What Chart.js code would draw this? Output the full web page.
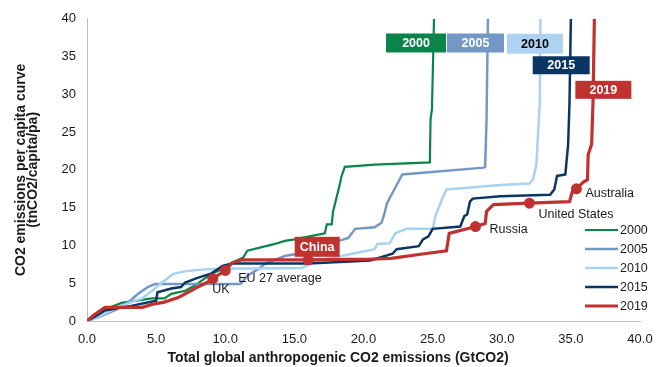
<!DOCTYPE html>
<html><head><meta charset="utf-8">
<script src="https://cdn.jsdelivr.net/npm/chart.js@4.4.0/dist/chart.umd.min.js"></script>
<style>html,body{margin:0;padding:0;background:#fff}#wrap{width:669px;height:367px}</style>
</head><body><div id="wrap"><canvas id="c" width="669" height="367"></canvas></div>
<script>
const years = ['2000', '2005', '2010', '2015', '2019'];

const x2000 = [0, 0.6, 1.5, 2.5, 4.7, 5.6, 6.1, 7.1, 7.8, 8.5, 9.2, 10.0, 10.5, 11.3, 11.6, 13.6, 14.3, 15.0, 17.2, 17.35, 17.7, 17.8, 18.3, 18.4, 18.65, 20.8, 24.8, 24.85, 24.95, 25.1];
const y2000 = [0, 0.9, 1.7, 2.4, 3.0, 3.0, 3.6, 4.0, 4.7, 5.6, 6.4, 7.1, 7.7, 8.4, 9.3, 10.2, 10.6, 10.8, 11.6, 12.8, 12.8, 14.5, 18.2, 19.1, 20.4, 20.7, 21.0, 26.7, 28.0, 40];

const x2005 = [0, 0.8, 2.0, 3.0, 3.7, 4.4, 4.9, 11.1, 11.6, 12.4, 12.9, 14.3, 16.5, 17.7, 18.9, 19.4, 20.8, 21.3, 21.5, 21.7, 22.4, 22.8, 28.7, 28.8, 28.9, 29.0];
const y2005 = [0, 0.5, 1.4, 2.5, 3.6, 4.5, 4.9, 4.9, 6.0, 6.9, 7.6, 8.6, 9.3, 10.3, 11.0, 12.2, 12.4, 13.0, 14.1, 15.6, 18.0, 19.4, 20.3, 20.4, 26.7, 40];

const x2010 = [0, 0.6, 1.3, 2.5, 3.5, 4.0, 4.7, 5.5, 6.2, 7.1, 8.3, 9.5, 10.0, 15.5, 16.7, 19.2, 20.8, 21.0, 21.9, 22.3, 23.1, 25.0, 25.2, 25.7, 26.0, 29.9, 32.0, 32.25, 32.5, 32.75, 32.8];
const y2010 = [0, 0.4, 1.0, 2.0, 2.7, 3.0, 4.0, 5.2, 6.2, 6.6, 6.8, 6.9, 6.9, 7.0, 8.0, 8.9, 9.5, 10.2, 10.3, 11.6, 12.2, 12.2, 13.9, 16.2, 17.4, 18.0, 18.2, 18.7, 20.6, 28.9, 40];

const x2015 = [0, 0.6, 1.3, 3.2, 5.0, 5.1, 6.1, 6.8, 7.1, 8.0, 9.0, 9.5, 9.8, 10.5, 16.0, 20.5, 22.1, 22.4, 24.0, 24.3, 24.7, 25.0, 27.0, 27.3, 27.5, 27.7, 27.9, 29.9, 33.5, 33.8, 34.0, 34.6, 34.7, 34.8, 34.9, 35.0];
const y2015 = [0, 0.6, 1.4, 2.0, 2.7, 3.8, 4.3, 4.5, 5.1, 5.7, 6.3, 6.9, 7.3, 7.6, 7.6, 8.0, 8.9, 9.5, 9.9, 10.8, 11.2, 12.2, 12.5, 13.9, 14.1, 15.8, 16.2, 16.5, 16.7, 17.4, 19.2, 19.4, 21.4, 23.3, 28.9, 40];

const x2019 = [0, 0.5, 1.3, 4.0, 4.7, 5.6, 6.6, 7.8, 9.0, 9.1, 10.0, 10.5, 11.2, 16.0, 20.5, 22.0, 24.4, 26.0, 26.2, 27.7, 28.1, 28.8, 28.9, 29.4, 32.0, 34.9, 35.1, 35.4, 35.9, 36.2, 36.25, 36.5, 36.6, 36.7];
const y2019 = [0, 0.8, 1.8, 1.8, 2.2, 2.5, 3.1, 4.3, 5.4, 5.6, 6.7, 7.7, 8.1, 8.1, 8.2, 8.3, 8.9, 9.3, 11.6, 12.3, 12.5, 12.9, 14.5, 15.4, 15.6, 15.8, 17.1, 17.5, 18.4, 18.7, 22.0, 23.4, 28.9, 40];

const markerNames = ['UK', 'EU 27 average', 'China', 'Russia', 'United States', 'Australia'];
const markerX = [9.1, 10.0, 16.0, 28.1, 32.0, 35.4];
const markerY = [5.6, 6.7, 8.1, 12.5, 15.6, 17.5];

const xTickValues = [0, 5, 10, 15, 20, 25, 30, 35, 40];
const yTickValues = [0, 5, 10, 15, 20, 25, 30, 35, 40];

const xTitle = 'Total global anthropogenic CO2 emissions (GtCO2)';
const yTitle = ['CO2 emissions per capita curve', '(tnCO2/capita/pa)'];

const colors = ['#0a8448', '#7398c6', '#a9d1f0', '#0b3663', '#c0322f'];
const widths = [2.2, 2.5, 2.5, 2.5, 3.2];
const FONT = "'Liberation Sans', Arial, sans-serif";

const seriesX = [x2000, x2005, x2010, x2015, x2019];
const seriesY = [y2000, y2005, y2010, y2015, y2019];

const datasets = years.map((yr, i) => ({
  label: yr,
  data: seriesX[i].map((x, j) => ({x: x, y: seriesY[i][j]})),
  showLine: true,
  borderColor: colors[i],
  backgroundColor: colors[i],
  borderWidth: widths[i],
  pointRadius: 0,
  tension: 0,
  order: 10 - i
}));
datasets.push({
  label: 'markers',
  data: markerX.map((x, j) => ({x: x, y: markerY[j]})),
  showLine: false,
  pointRadius: 5.5,
  pointBackgroundColor: '#c0322f',
  pointBorderColor: '#c0322f',
  pointBorderWidth: 0,
  order: 0
});

// annotation layout (offsets in px from the marker)
const labelLayout = [
  {dx: 8, dy: 11, align: 'center'},
  {dx: 13, dy: 8, align: 'left'},
  {dx: 9, dy: -13, box: true, w: 45, h: 20},
  {dx: 14, dy: 3, align: 'left'},
  {dx: 9, dy: 11, align: 'left'},
  {dx: 9, dy: 5, align: 'left'}
];
// year box anchors (data coordinates) and sizes
const yearBoxLayout = [
  {x: 23.8, y: 36.8, w: 60, h: 19, text: '#ffffff'},
  {x: 28.1, y: 36.8, w: 57, h: 19, text: '#ffffff'},
  {x: 32.4, y: 36.7, w: 56, h: 20, text: '#000000'},
  {x: 34.3, y: 33.85, w: 57, h: 18, text: '#ffffff'},
  {x: 37.35, y: 30.6, w: 56, h: 18, text: '#ffffff'}
];
const boxColors = ['#0a8448', '#7398c6', '#aed3f2', '#0b3663', '#c0322f'];

const overlay = {
  id: 'overlay',
  afterDatasetsDraw(chart) {
    const ctx = chart.ctx, xs = chart.scales.x, ys = chart.scales.y;
    ctx.save();
    ctx.textBaseline = 'middle';
    markerNames.forEach((name, i) => {
      const px = xs.getPixelForValue(markerX[i]), py = ys.getPixelForValue(markerY[i]);
      const L = labelLayout[i];
      if (L.box) {
        const cx = px + L.dx, cy = py + L.dy;
        ctx.fillStyle = '#c0322f';
        ctx.fillRect(cx - L.w / 2, cy - L.h / 2, L.w, L.h);
        ctx.fillStyle = '#ffffff';
        ctx.font = 'bold 12.5px ' + FONT;
        ctx.textAlign = 'center';
        ctx.fillText(name, cx, cy + 0.5);
      } else {
        ctx.fillStyle = '#1a1a1a';
        ctx.font = '12.5px ' + FONT;
        ctx.textAlign = L.align;
        ctx.fillText(name, px + L.dx, py + L.dy);
      }
    });
    years.forEach((yr, i) => {
      const B = yearBoxLayout[i];
      const cx = xs.getPixelForValue(B.x), cy = ys.getPixelForValue(B.y);
      ctx.fillStyle = boxColors[i];
      ctx.fillRect(cx - B.w / 2, cy - B.h / 2, B.w, B.h);
      ctx.fillStyle = B.text;
      ctx.font = 'bold 12.5px ' + FONT;
      ctx.textAlign = 'center';
      ctx.fillText(yr, cx, cy + 0.5);
    });
    years.forEach((yr, i) => {
      const ly = 230 + 19 * i;
      ctx.strokeStyle = colors[i];
      ctx.lineWidth = widths[i];
      ctx.beginPath();
      ctx.moveTo(585, ly);
      ctx.lineTo(618, ly);
      ctx.stroke();
      ctx.fillStyle = '#1a1a1a';
      ctx.font = '12.5px ' + FONT;
      ctx.textAlign = 'left';
      ctx.fillText(yr, 620, ly + 0.5);
    });
    ctx.fillStyle = '#1a1a1a';
    ctx.font = 'bold 14px ' + FONT;
    ctx.textAlign = 'center';
    ctx.fillText(xTitle, 338, 358);
    ctx.restore();
  }
};

new Chart(document.getElementById('c'), {
  type: 'scatter',
  data: {datasets: datasets},
  options: {
    responsive: false,
    animation: false,
    devicePixelRatio: 1,
    layout: {padding: {top: 14, right: 29, left: 0, bottom: 0}},
    plugins: {legend: {display: false}, tooltip: {enabled: false}},
    scales: {
      x: {
        type: 'linear', min: 0, max: 40,
        afterBuildTicks: s => { s.ticks = xTickValues.map(v => ({value: v})); },
        afterFit: s => { s.height = 46; },
        grid: {display: false, drawTicks: false},
        border: {display: true, color: '#bfbfbf', width: 1},
        ticks: {font: {family: FONT, size: 13}, color: '#1a1a1a', padding: 11, maxRotation: 0,
          callback: v => Number(v).toFixed(1)}
      },
      y: {
        type: 'linear', min: 0, max: 40,
        afterBuildTicks: s => { s.ticks = yTickValues.map(v => ({value: v})); },
        afterFit: s => { s.width = 87; },
        grid: {display: false, drawTicks: false},
        border: {display: true, color: '#bfbfbf', width: 1},
        ticks: {font: {family: FONT, size: 13}, color: '#1a1a1a', padding: 11,
          callback: v => String(v)},
        title: {display: true, text: yTitle, color: '#1a1a1a',
          font: {family: FONT, size: 14, weight: 'bold', lineHeight: 0.9},
          padding: {top: 14.5, bottom: 0}}
      }
    }
  },
  plugins: [overlay]
});
</script>
</body></html>
